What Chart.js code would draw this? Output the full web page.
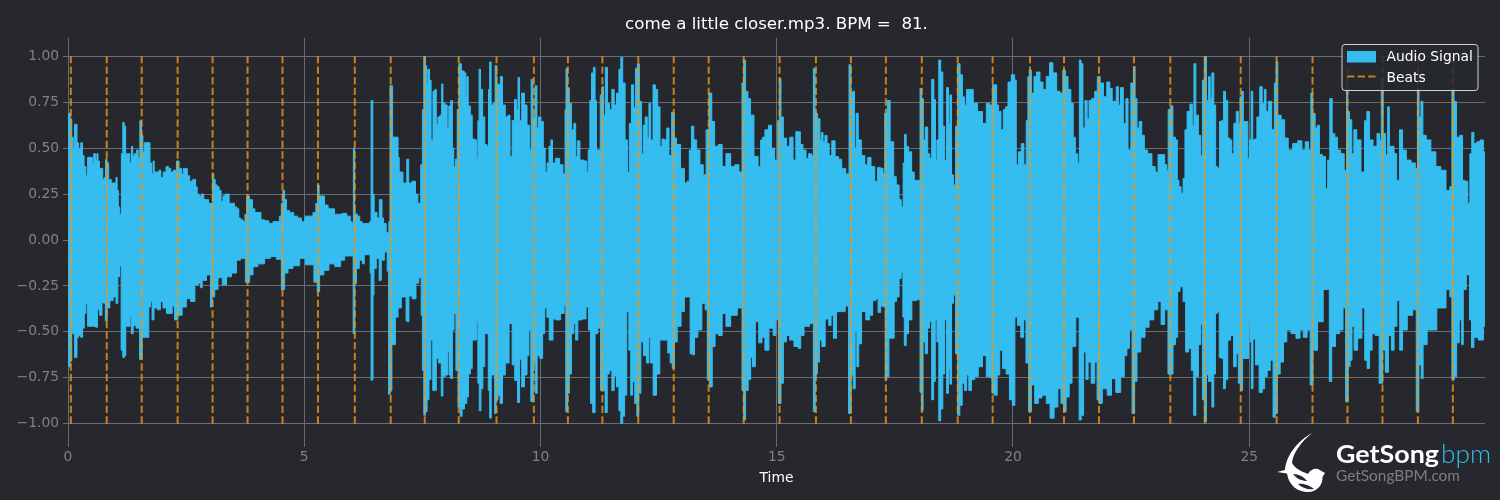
<!DOCTYPE html>
<html><head><meta charset="utf-8">
<script src="https://cdn.jsdelivr.net/npm/chart.js@4/dist/chart.umd.min.js"></script>
<style>
html,body{margin:0;padding:0;background:#26282d;width:1500px;height:500px;overflow:hidden}
#w{position:relative;width:1500px;height:500px}
canvas{position:absolute;left:0;top:0}
svg{position:absolute;left:0;top:0}
</style></head><body>
<div id="w"><canvas id="c" width="1500" height="500"></canvas>
<svg width="1500" height="500" viewBox="0 0 1500 500">
<path fill="#fff" d="M1312 433C1298 441 1286 455 1285 470L1277 472L1287 473.500C1289 486 1298 492 1308 492C1317 492 1323 485 1322.500 477L1325 473L1318 469C1314 468 1310 470 1308 474C1300 471 1295 468 1292 463C1293 453 1301 442 1312 433Z"/>
<path fill="#26282d" d="M1293 474C1299 474 1304 477 1307 481C1302 481 1297 479 1293 474ZM1298 484C1304 483 1310 486 1314 489C1308 490 1302 488 1298 484Z"/>
<text x="1336" y="463" font-family="Lato" font-weight="700" font-size="25" fill="#fff" textLength="103" lengthAdjust="spacingAndGlyphs">GetSong</text>
<text x="1441" y="463" font-family="Lato" font-weight="300" font-size="25" fill="#36bdf0" textLength="50" lengthAdjust="spacingAndGlyphs">bpm</text>
<text x="1336" y="481" font-family="Lato" font-size="15" fill="#7d7e80" textLength="124" lengthAdjust="spacingAndGlyphs">GetSongBPM.com</text>
</svg></div>
<script>
const titleText = 'come a little closer.mp3. BPM =  81.';
const xLabel = 'Time';
const xTicks = [0,5,10,15,20,25];
const yTicks = [-1,-0.75,-0.5,-0.25,0,0.25,0.5,0.75,1];
const beatTimes = [0.06,0.82,1.56,2.32,3.06,3.80,4.54,5.29,6.07,6.83,7.55,8.27,9.07,9.86,10.58,11.31,12.07,12.82,13.56,14.30,15.06,15.83,16.57,17.31,18.07,18.83,19.57,20.36,21.08,21.82,22.56,23.33,24.06,24.82,25.58,26.34,27.08,27.82,28.57,29.31];
const upperEnvelope = [[0,.38],[.02,.69],[.07,.66],[.09,.56],[.13,.50],[.15,.63],[.18,.63],[.2,.53],[.25,.50],[.29,.53],[.32,.46],[.36,.40],[.4,.35],[.43,.45],[.5,.45],[.53,.42],[.56,.47],[.6,.43],[.62,.47],[.65,.43],[.68,.39],[.72,.39],[.75,.33],[.78,.34],[.81,.44],[.84,.42],[.88,.33],[.95,.31],[1.0,.31],[1.03,.34],[1.05,.27],[1.08,.18],[1.11,.14],[1.15,.47],[1.17,.64],[1.21,.62],[1.23,.47],[1.29,.47],[1.33,.42],[1.36,.51],[1.38,.46],[1.43,.47],[1.47,.49],[1.5,.45],[1.54,.65],[1.57,.57],[1.6,.48],[1.63,.53],[1.72,.53],[1.75,.42],[1.79,.36],[1.81,.43],[1.84,.37],[1.9,.37],[1.95,.38],[1.98,.34],[2.05,.37],[2.1,.40],[2.15,.39],[2.2,.37],[2.27,.38],[2.32,.43],[2.38,.39],[2.42,.36],[2.46,.39],[2.5,.39],[2.55,.35],[2.6,.32],[2.68,.33],[2.72,.29],[2.75,.25],[2.8,.24],[2.85,.25],[2.9,.22],[2.95,.22],[3.0,.20],[3.05,.20],[3.07,.36],[3.1,.33],[3.13,.30],[3.18,.29],[3.22,.27],[3.26,.21],[3.3,.24],[3.35,.25],[3.4,.25],[3.42,.20],[3.5,.20],[3.55,.18],[3.6,.17],[3.63,.12],[3.68,.11],[3.73,.10],[3.76,.14],[3.8,.24],[3.88,.22],[3.93,.17],[3.98,.15],[4.05,.15],[4.12,.11],[4.2,.105],[4.3,.09],[4.38,.10],[4.45,.10],[4.5,.13],[4.53,.20],[4.57,.27],[4.6,.22],[4.65,.16],[4.73,.15],[4.82,.13],[4.9,.12],[4.98,.10],[5.05,.13],[5.15,.13],[5.22,.15],[5.27,.20],[5.3,.30],[5.33,.24],[5.4,.24],[5.46,.19],[5.55,.17],[5.62,.17],[5.66,.14],[5.75,.14],[5.85,.145],[5.95,.13],[6.0,.10],[6.03,.09],[6.05,.50],[6.08,.15],[6.1,.14],[6.15,.13],[6.2,.10],[6.25,.09],[6.36,.09],[6.41,.10],[6.42,.76],[6.44,.76],[6.46,.25],[6.5,.15],[6.58,.12],[6.6,.22],[6.63,.22],[6.66,.12],[6.7,.09],[6.77,.04],[6.81,.10],[6.82,.84],[6.86,.84],[6.88,.56],[6.97,.56],[7.0,.45],[7.02,.37],[7.08,.37],[7.1,.31],[7.16,.31],[7.18,.44],[7.2,.44],[7.22,.31],[7.34,.32],[7.37,.25],[7.44,.20],[7.49,.41],[7.51,.71],[7.55,1.0],[7.58,.95],[7.6,.85],[7.63,.93],[7.67,.87],[7.70,.545],[7.75,.81],[7.78,.82],[7.81,.63],[7.85,.67],[7.895,.68],[7.92,.85],[7.95,.745],[8.01,.735],[8.04,.61],[8.08,.73],[8.12,.76],[8.15,.50],[8.18,.40],[8.22,.44],[8.255,.71],[8.29,.96],[8.36,.92],[8.41,.91],[8.43,.78],[8.45,.89],[8.49,.73],[8.54,.68],[8.57,.55],[8.64,.545],[8.66,.445],[8.69,.65],[8.71,.93],[8.75,.82],[8.80,.67],[8.84,.52],[8.89,.51],[8.91,.82],[8.94,.97],[8.97,.735],[9.03,.745],[9.05,.95],[9.10,.85],[9.13,.845],[9.17,.89],[9.22,.735],[9.29,.67],[9.33,.68],[9.38,.455],[9.42,.65],[9.48,.765],[9.51,.71],[9.54,.885],[9.575,.65],[9.63,.80],[9.69,.735],[9.74,.625],[9.79,.49],[9.815,.875],[9.86,.67],[9.91,.84],[9.94,.61],[9.98,.67],[10.04,.645],[10.08,.50],[10.12,.37],[10.16,.42],[10.2,.51],[10.24,.545],[10.27,.42],[10.37,.445],[10.44,.41],[10.51,.36],[10.53,.71],[10.55,.935],[10.59,.83],[10.63,.745],[10.68,.60],[10.73,.635],[10.76,.455],[10.80,.54],[10.87,.435],[10.97,.43],[10.99,.37],[11.03,.49],[11.06,.76],[11.10,.91],[11.14,.94],[11.17,.76],[11.2,.49],[11.25,.49],[11.28,.79],[11.32,.835],[11.35,.68],[11.395,.94],[11.44,.745],[11.48,.71],[11.54,.82],[11.58,.735],[11.64,.80],[11.68,.93],[11.72,.995],[11.76,.855],[11.82,.545],[11.86,.37],[11.90,.635],[11.95,.845],[11.99,.72],[12.03,.935],[12.07,.96],[12.115,.755],[12.16,.47],[12.19,.625],[12.24,.67],[12.28,.555],[12.31,.745],[12.355,.545],[12.41,.845],[12.45,.82],[12.51,.725],[12.55,.51],[12.595,.55],[12.645,.545],[12.70,.61],[12.74,.46],[12.81,.695],[12.85,.555],[12.91,.52],[13.02,.39],[13.07,.31],[13.13,.32],[13.17,.49],[13.22,.62],[13.27,.545],[13.34,.49],[13.41,.41],[13.48,.355],[13.53,.60],[13.60,.80],[13.65,.645],[13.72,.51],[13.81,.52],[13.88,.40],[13.97,.47],[14.08,.40],[14.15,.41],[14.25,.37],[14.28,.855],[14.32,.98],[14.36,.81],[14.42,.77],[14.465,.68],[14.57,.455],[14.64,.40],[14.68,.545],[14.72,.56],[14.78,.60],[14.87,.625],[14.91,.50],[15.0,.435],[15.04,.65],[15.07,.88],[15.11,.67],[15.17,.555],[15.24,.51],[15.31,.56],[15.38,.435],[15.43,.59],[15.49,.59],[15.51,.52],[15.6,.49],[15.64,.445],[15.71,.47],[15.76,.46],[15.79,.935],[15.83,.69],[15.9,.66],[15.93,.545],[15.96,.585],[16.0,.535],[16.04,.57],[16.09,.525],[16.13,.46],[16.2,.54],[16.27,.455],[16.34,.44],[16.41,.39],[16.51,.36],[16.55,.955],[16.59,.80],[16.63,.81],[16.66,.50],[16.70,.69],[16.75,.545],[16.83,.46],[16.9,.41],[16.95,.45],[17.04,.40],[17.11,.32],[17.16,.395],[17.23,.39],[17.27,.36],[17.30,.69],[17.38,.76],[17.42,.535],[17.46,.535],[17.49,.345],[17.57,.30],[17.61,.22],[17.66,.18],[17.69,.42],[17.72,.575],[17.76,.51],[17.82,.48],[17.89,.37],[17.93,.325],[18.02,.325],[18.045,.825],[18.09,.77],[18.115,.545],[18.17,.615],[18.22,.47],[18.26,.445],[18.30,.875],[18.35,.765],[18.37,.435],[18.41,.545],[18.45,.98],[18.49,.915],[18.54,.62],[18.57,.435],[18.62,.83],[18.65,.635],[18.68,.79],[18.72,.355],[18.76,.30],[18.81,.62],[18.85,.96],[18.91,.90],[18.95,.78],[19.0,.735],[19.03,.82],[19.12,.82],[19.2,.745],[19.3,.70],[19.41,.635],[19.46,.745],[19.55,.735],[19.58,.845],[19.64,.845],[19.67,.735],[19.72,.70],[19.77,.60],[19.82,.71],[19.87,.725],[19.92,.86],[20.01,.90],[20.06,.87],[20.08,.41],[20.15,.48],[20.20,.525],[20.26,.41],[20.30,.65],[20.33,.89],[20.36,.925],[20.42,.80],[20.47,.89],[20.53,.915],[20.61,.86],[20.66,.82],[20.75,.89],[20.80,.965],[20.89,.91],[20.96,.81],[21.03,.80],[21.08,.925],[21.14,.89],[21.19,.82],[21.26,.745],[21.29,.56],[21.35,.47],[21.39,.42],[21.42,.98],[21.46,.96],[21.50,.61],[21.55,.76],[21.59,.66],[21.63,.76],[21.7,.77],[21.76,.81],[21.81,.89],[21.88,.855],[21.95,.78],[22.02,.86],[22.08,.825],[22.12,.755],[22.16,.755],[22.21,.835],[22.25,.735],[22.30,.83],[22.37,.635],[22.41,.77],[22.46,.49],[22.53,.855],[22.57,.945],[22.60,.77],[22.65,.61],[22.69,.645],[22.76,.57],[22.80,.49],[22.90,.47],[22.98,.40],[23.04,.37],[23.10,.465],[23.18,.465],[23.24,.41],[23.27,.38],[23.30,.71],[23.36,.73],[23.41,.56],[23.465,.545],[23.49,.325],[23.535,.29],[23.58,.255],[23.62,.335],[23.66,.60],[23.71,.70],[23.78,.74],[23.81,.625],[23.85,.96],[23.89,.68],[23.96,.57],[23.99,.46],[24.03,.87],[24.07,1.0],[24.12,.76],[24.16,.89],[24.19,.77],[24.23,.91],[24.27,.735],[24.31,.40],[24.36,.39],[24.38,.645],[24.44,.65],[24.475,.81],[24.52,.76],[24.57,.555],[24.61,.545],[24.65,.47],[24.70,.635],[24.75,.70],[24.79,.635],[24.82,.78],[24.86,.81],[24.89,.645],[24.95,.645],[24.99,.445],[25.02,.545],[25.06,.81],[25.09,.545],[25.13,.55],[25.195,.67],[25.25,.835],[25.3,.745],[25.34,.82],[25.37,.70],[25.44,.755],[25.51,.60],[25.555,.855],[25.58,.97],[25.63,.68],[25.72,.655],[25.78,.555],[25.87,.49],[25.97,.525],[26.08,.54],[26.15,.49],[26.22,.535],[26.29,.49],[26.32,.80],[26.37,.69],[26.42,.61],[26.46,.625],[26.51,.465],[26.585,.455],[26.64,.28],[26.68,.435],[26.73,.77],[26.78,.58],[26.84,.56],[26.89,.49],[26.98,.47],[27.04,.38],[27.08,.86],[27.09,.70],[27.15,.655],[27.19,.47],[27.24,.60],[27.31,.545],[27.42,.37],[27.46,.65],[27.52,.70],[27.57,.545],[27.67,.51],[27.74,.58],[27.78,.545],[27.81,.88],[27.86,.58],[27.91,.465],[27.95,.725],[27.98,.51],[28.04,.51],[28.09,.47],[28.15,.325],[28.21,.60],[28.28,.49],[28.37,.435],[28.48,.42],[28.55,.39],[28.57,.82],[28.62,.67],[28.65,.755],[28.70,.57],[28.79,.545],[28.90,.48],[29.0,.40],[29.11,.38],[29.22,.27],[29.27,.29],[29.31,.82],[29.36,.755],[29.41,.56],[29.5,.57],[29.53,.325],[29.6,.32],[29.65,.20],[29.69,.47],[29.73,.585],[29.78,.525],[29.85,.535],[29.92,.545],[29.99,.48]];
const lowerEnvelope = [[0,-.38],[.02,-.69],[.07,-.66],[.09,-.51],[.13,-.51],[.15,-.64],[.18,-.64],[.2,-.53],[.25,-.52],[.29,-.53],[.33,-.48],[.36,-.40],[.40,-.345],[.43,-.47],[.5,-.47],[.56,-.47],[.61,-.475],[.64,-.38],[.7,-.41],[.74,-.34],[.77,-.345],[.81,-.44],[.85,-.37],[.92,-.33],[.99,-.31],[1.04,-.345],[1.07,-.20],[1.11,-.14],[1.14,-.60],[1.18,-.64],[1.21,-.63],[1.235,-.47],[1.31,-.47],[1.32,-.415],[1.36,-.51],[1.40,-.465],[1.48,-.48],[1.55,-.65],[1.59,-.53],[1.69,-.53],[1.73,-.365],[1.76,-.335],[1.80,-.435],[1.84,-.37],[1.94,-.38],[1.97,-.335],[2.05,-.37],[2.12,-.40],[2.19,-.40],[2.22,-.36],[2.29,-.435],[2.36,-.41],[2.47,-.365],[2.54,-.32],[2.65,-.335],[2.72,-.245],[2.79,-.235],[2.82,-.26],[2.86,-.22],[3.0,-.19],[3.03,-.365],[3.07,-.31],[3.14,-.27],[3.21,-.205],[3.32,-.245],[3.39,-.20],[3.53,-.18],[3.6,-.11],[3.7,-.10],[3.81,-.23],[3.88,-.19],[3.95,-.145],[4.09,-.13],[4.23,-.10],[4.34,-.09],[4.48,-.105],[4.55,-.27],[4.62,-.18],[4.69,-.155],[4.83,-.14],[4.975,-.10],[5.08,-.135],[5.15,-.135],[5.26,-.23],[5.29,-.28],[5.36,-.19],[5.47,-.165],[5.575,-.13],[5.72,-.145],[5.82,-.11],[5.89,-.087],[6.02,-.087],[6.05,-.51],[6.09,-.235],[6.12,-.155],[6.21,-.11],[6.25,-.13],[6.29,-.08],[6.38,-.08],[6.41,-.18],[6.42,-.765],[6.45,-.76],[6.46,-.30],[6.49,-.155],[6.56,-.10],[6.61,-.22],[6.65,-.11],[6.74,-.065],[6.77,-.17],[6.8,-.84],[6.84,-.82],[6.87,-.57],[6.91,-.57],[6.95,-.42],[7.02,-.37],[7.09,-.31],[7.15,-.31],[7.16,-.44],[7.2,-.445],[7.23,-.305],[7.34,-.32],[7.39,-.235],[7.46,-.205],[7.49,-.41],[7.51,-.71],[7.55,-.955],[7.58,-.935],[7.62,-.87],[7.66,-.76],[7.70,-.545],[7.74,-.82],[7.78,-.82],[7.81,-.645],[7.88,-.67],[7.92,-.85],[7.95,-.745],[8.02,-.735],[8.05,-.61],[8.08,-.735],[8.12,-.755],[8.15,-.49],[8.19,-.40],[8.23,-.71],[8.28,-.91],[8.32,-.96],[8.36,-.92],[8.42,-.89],[8.46,-.855],[8.49,-.73],[8.54,-.70],[8.57,-.545],[8.64,-.545],[8.66,-.445],[8.69,-.78],[8.72,-.93],[8.76,-.81],[8.80,-.69],[8.84,-.51],[8.88,-.51],[8.91,-.82],[8.94,-.97],[8.975,-.735],[9.02,-.735],[9.04,-.945],[9.08,-.87],[9.12,-.845],[9.17,-.89],[9.22,-.735],[9.29,-.67],[9.38,-.455],[9.42,-.68],[9.49,-.765],[9.54,-.885],[9.575,-.65],[9.63,-.80],[9.69,-.735],[9.74,-.63],[9.77,-.49],[9.82,-.88],[9.87,-.67],[9.91,-.835],[9.95,-.63],[10.02,-.645],[10.07,-.51],[10.11,-.37],[10.16,-.42],[10.21,-.545],[10.25,-.545],[10.28,-.43],[10.37,-.435],[10.48,-.40],[10.52,-.355],[10.55,-.935],[10.59,-.835],[10.63,-.73],[10.68,-.51],[10.73,-.455],[10.76,-.545],[10.82,-.435],[10.94,-.43],[10.99,-.365],[11.04,-.49],[11.08,-.89],[11.13,-.94],[11.18,-.51],[11.25,-.48],[11.29,-.82],[11.34,-.82],[11.395,-.94],[11.43,-.73],[11.48,-.71],[11.54,-.82],[11.58,-.74],[11.64,-.80],[11.68,-.93],[11.72,-1.0],[11.76,-.96],[11.80,-.845],[11.85,-.39],[11.89,-.60],[11.93,-.845],[11.97,-.77],[12.02,-.89],[12.06,-.96],[12.10,-.835],[12.15,-.555],[12.21,-.63],[12.28,-.67],[12.31,-.53],[12.35,-.67],[12.42,-.845],[12.49,-.73],[12.56,-.545],[12.665,-.545],[12.72,-.615],[12.77,-.67],[12.81,-.70],[12.86,-.555],[12.93,-.47],[13.02,-.39],[13.07,-.31],[13.14,-.31],[13.195,-.62],[13.23,-.625],[13.29,-.53],[13.37,-.49],[13.46,-.345],[13.51,-.38],[13.55,-.76],[13.60,-.80],[13.67,-.58],[13.72,-.51],[13.81,-.52],[13.88,-.40],[13.97,-.47],[14.08,-.41],[14.25,-.37],[14.28,-.82],[14.32,-.98],[14.36,-.82],[14.43,-.76],[14.465,-.64],[14.51,-.69],[14.585,-.445],[14.655,-.56],[14.72,-.53],[14.78,-.60],[14.89,-.48],[14.96,-.52],[15.0,-.435],[15.07,-.89],[15.11,-.78],[15.17,-.555],[15.24,-.52],[15.31,-.545],[15.42,-.58],[15.49,-.59],[15.525,-.52],[15.63,-.47],[15.76,-.455],[15.79,-.935],[15.84,-.73],[15.88,-.665],[15.93,-.545],[15.98,-.58],[16.07,-.43],[16.13,-.465],[16.17,-.41],[16.23,-.535],[16.30,-.39],[16.41,-.39],[16.49,-.36],[16.55,-.945],[16.60,-.735],[16.64,-.81],[16.68,-.50],[16.71,-.69],[16.76,-.565],[16.83,-.39],[16.94,-.435],[16.99,-.41],[17.07,-.33],[17.13,-.32],[17.16,-.395],[17.24,-.36],[17.28,-.365],[17.31,-.76],[17.35,-.745],[17.40,-.535],[17.47,-.535],[17.50,-.335],[17.57,-.31],[17.61,-.21],[17.66,-.175],[17.68,-.42],[17.72,-.575],[17.76,-.51],[17.82,-.435],[17.90,-.33],[18.02,-.325],[18.045,-.83],[18.08,-.93],[18.115,-.555],[18.17,-.62],[18.21,-.48],[18.26,-.445],[18.30,-.87],[18.34,-.77],[18.37,-.435],[18.41,-.555],[18.45,-.985],[18.49,-.92],[18.54,-.73],[18.57,-.435],[18.62,-.835],[18.65,-.70],[18.68,-.785],[18.72,-.345],[18.76,-.30],[18.81,-.62],[18.85,-.955],[18.90,-.90],[18.95,-.78],[19.0,-.82],[19.04,-.735],[19.09,-.82],[19.15,-.76],[19.23,-.745],[19.30,-.69],[19.41,-.63],[19.46,-.745],[19.54,-.75],[19.57,-.835],[19.64,-.845],[19.69,-.735],[19.75,-.60],[19.81,-.70],[19.90,-.73],[19.95,-.87],[20.02,-.90],[20.06,-.42],[20.13,-.465],[20.2,-.53],[20.25,-.435],[20.30,-.67],[20.36,-.935],[20.42,-.79],[20.50,-.89],[20.57,-.86],[20.66,-.845],[20.75,-.89],[20.82,-.97],[20.92,-.91],[20.98,-.81],[21.05,-.89],[21.09,-.935],[21.16,-.855],[21.22,-.78],[21.28,-.58],[21.38,-.42],[21.42,-.98],[21.47,-.955],[21.52,-.61],[21.57,-.76],[21.61,-.665],[21.70,-.78],[21.76,-.665],[21.80,-.87],[21.84,-.89],[21.94,-.81],[22.05,-.845],[22.12,-.755],[22.23,-.83],[22.33,-.745],[22.38,-.63],[22.44,-.59],[22.49,-.49],[22.55,-.945],[22.60,-.77],[22.65,-.61],[22.76,-.53],[22.83,-.475],[22.93,-.435],[23.03,-.38],[23.10,-.335],[23.17,-.46],[23.25,-.38],[23.31,-.73],[23.365,-.73],[23.41,-.57],[23.47,-.53],[23.50,-.28],[23.57,-.255],[23.63,-.335],[23.68,-.61],[23.75,-.59],[23.80,-.71],[23.85,-.955],[23.89,-.745],[23.96,-.57],[23.99,-.46],[24.03,-.87],[24.07,-.99],[24.12,-.735],[24.16,-.77],[24.19,-.77],[24.23,-.91],[24.27,-.73],[24.30,-.40],[24.35,-.39],[24.38,-.64],[24.44,-.645],[24.47,-.81],[24.52,-.76],[24.57,-.545],[24.64,-.52],[24.70,-.69],[24.75,-.62],[24.79,-.78],[24.84,-.82],[24.88,-.645],[24.97,-.645],[25.0,-.445],[25.03,-.555],[25.06,-.81],[25.10,-.54],[25.17,-.68],[25.25,-.83],[25.3,-.81],[25.35,-.745],[25.41,-.71],[25.48,-.655],[25.53,-.965],[25.57,-.945],[25.62,-.73],[25.69,-.665],[25.76,-.555],[25.83,-.49],[25.94,-.51],[26.04,-.535],[26.11,-.49],[26.18,-.53],[26.27,-.49],[26.31,-.79],[26.39,-.60],[26.5,-.445],[26.63,-.27],[26.68,-.27],[26.71,-.77],[26.78,-.58],[26.87,-.51],[26.96,-.49],[27.01,-.37],[27.07,-.88],[27.12,-.69],[27.15,-.655],[27.2,-.47],[27.24,-.60],[27.35,-.535],[27.42,-.37],[27.47,-.655],[27.52,-.70],[27.57,-.60],[27.63,-.51],[27.7,-.52],[27.80,-.78],[27.85,-.60],[27.91,-.72],[27.98,-.52],[28.04,-.60],[28.09,-.47],[28.16,-.33],[28.21,-.60],[28.28,-.49],[28.41,-.41],[28.51,-.38],[28.56,-.935],[28.62,-.68],[28.66,-.755],[28.70,-.57],[28.83,-.49],[28.94,-.49],[29.0,-.37],[29.11,-.37],[29.22,-.27],[29.27,-.31],[29.31,-.76],[29.37,-.745],[29.41,-.56],[29.48,-.435],[29.51,-.57],[29.55,-.27],[29.64,-.19],[29.68,-.435],[29.73,-.585],[29.78,-.53],[29.92,-.545],[29.99,-.47]];

const toPts = a => a.map(p => ({x:p[0], y:p[1]}));
const beatPts = beatTimes.flatMap(t => [{x:t,y:-1},{x:t,y:1},{x:t,y:null}]);
const bg = '#26282d', blue = '#36bdf0', grid = '#6b6c6f', tickCol = '#7f8082', beatCol = 'rgba(240,150,20,0.8)';

const legendBox = {
  id:'legendBox',
  afterDatasetsDraw(chart){
    const c = chart.ctx; c.save();
    c.beginPath(); c.roundRect(1342,44.5,136,46,3);
    c.fillStyle='rgba(38,40,45,0.88)'; c.fill();
    c.strokeStyle='#cfd0d1'; c.lineWidth=1; c.stroke();
    c.fillStyle=blue; c.fillRect(1347,51,29,11.500);
    c.strokeStyle=beatCol; c.lineWidth=2; c.setLineDash([7.4,3.2]);
    c.beginPath(); c.moveTo(1347,76.5); c.lineTo(1376,76.5); c.stroke(); c.setLineDash([]);
    c.fillStyle='#fff'; c.font='13.85px "DejaVu Sans"'; c.textBaseline='middle';
    c.fillText(chart.data.datasets[0].label,1386.5,57.5);
    c.fillText(chart.data.datasets[2].label,1386.5,78);
    c.restore();
  }
};

new Chart(document.getElementById('c'),{
  type:'line',
  data:{datasets:[
    {label:'Audio Signal',data:toPts(upperEnvelope),borderColor:blue,backgroundColor:blue,borderWidth:1,pointRadius:0,stepped:'middle',fill:'+1',order:2},
    {label:'lower',data:toPts(lowerEnvelope),borderColor:blue,backgroundColor:blue,borderWidth:1,pointRadius:0,stepped:'middle',fill:false,order:2},
    {label:'Beats',data:beatPts,borderColor:beatCol,borderWidth:2,borderDash:[7.4,3.2],pointRadius:0,tension:0,fill:false,spanGaps:false,order:1}
  ]},
  plugins:[legendBox],
  options:{
    responsive:false,animation:false,devicePixelRatio:1,
    layout:{padding:{left:0,right:15,top:0,bottom:0}},
    plugins:{legend:{display:false},tooltip:{enabled:false},
      title:{display:true,fullSize:false,text:titleText,color:'#fff',font:{family:'DejaVu Sans',size:16.67,weight:'normal'},padding:{top:15,bottom:3}}},
    scales:{
      x:{type:'linear',min:0,max:29.99,
        afterBuildTicks:s=>{s.ticks=xTicks.map(v=>({value:v}));},
        afterFit:s=>{s.height=58;},
        grid:{color:grid,lineWidth:1,tickLength:5,drawTicks:true},border:{display:false},
        ticks:{color:tickCol,font:{family:'DejaVu Sans',size:13.85},padding:2,maxRotation:0,callback:v=>String(v)},
        title:{display:true,text:xLabel,color:'#fff',font:{family:'DejaVu Sans',size:13.85},padding:{top:6,bottom:13}}},
      y:{min:-1.1,max:1.1,
        afterBuildTicks:s=>{s.ticks=yTicks.map(v=>({value:v}));},
        afterFit:s=>{s.width=68;},
        grid:{color:grid,lineWidth:1,tickLength:5,drawTicks:true},border:{display:false},
        ticks:{color:tickCol,font:{family:'DejaVu Sans',size:13.85},padding:4,callback:v=>v.toFixed(2).replace('-','\u2212')}}
    }
  }
});
</script></body></html>
